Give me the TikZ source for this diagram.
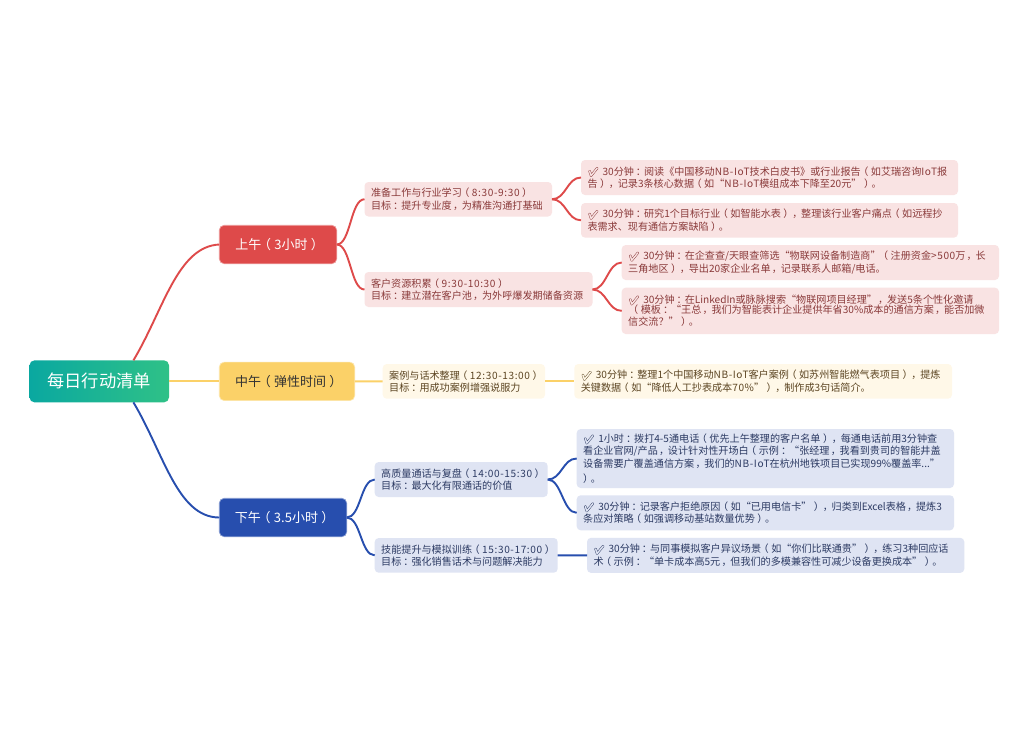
\documentclass[tikz,border=0pt]{standalone}
\usepackage{fontspec}
\setmainfont{Noto Sans CJK SC}
\newfontfamily\emo{Noto Emoji}
\newfontfamily\ltn[LetterSpace=6]{Noto Sans CJK SC}
\usetikzlibrary{calc}
\catcode`（=\active \def（{\kern-.25em\char"FF08\kern.25em}
\catcode`）=\active \def）{\kern.25em\char"FF09\kern-.25em}
\catcode`：=\active \def：{\kern.2em\char"FF1A\kern-.2em}
\catcode`，=\active \def，{\kern.12em\char"FF0C\kern-.12em}
\newcommand{\ck}{\smash{\fontsize{9.2}{9.2}\emo\special{pdf:code 1 Tr 0.3 w}✔\special{pdf:code 0 Tr}}\ }
\newcommand{\tm}[1]{\mbox{\ltn #1}}
\definecolor{redc}{HTML}{DE4A4A}
\definecolor{redf}{HTML}{F9E3E3}
\definecolor{redt}{HTML}{8A3A3A}
\definecolor{yelc}{HTML}{FBD168}
\definecolor{yelf}{HTML}{FFF8E8}
\definecolor{yelt}{HTML}{5C4522}
\definecolor{bluc}{HTML}{274EAE}
\definecolor{bluf}{HTML}{DFE4F3}
\definecolor{blut}{HTML}{2C3A63}
\tikzset{
  x=1pt,y=-1pt,
  tbox/.style={rounded corners=4pt,inner sep=0pt,outer sep=0pt,align=left,font=\fontsize{10.1}{12.3}\selectfont},
  redbox/.style={tbox,fill=redf,text=redt},
  yelbox/.style={tbox,fill=yelf,text=yelt},
  blubox/.style={tbox,fill=bluf,text=blut},
  mainbox/.style={rounded corners=5pt,inner sep=0pt,outer sep=0pt,align=center,line width=.7pt,font=\fontsize{13}{16}\selectfont},
  link/.style={line width=1.9pt},
}
% #1 style, #2 name, #3 left, #4 top, #5 right, #6 bottom, #7 text
\newcommand{\bx}[7]{\node[#1,minimum width={(#5-#3)*1pt},minimum height={(#6-#4)*1pt},text width={(#5-#3-13)*1pt}] (#2) at ({(#3+#5)/2},{(#4+#6)/2}) {#7};}
\newcommand{\scurve}[3]{\draw[link,#1] (#2.east) .. controls ($(#2.east)+(14,0)$) and ($(#3.west)+(-14,0)$) .. (#3.west);}
\begin{document}
\begin{tikzpicture}
\useasboundingbox (0,0) rectangle (1028,736);
\fill[white] (0,0) rectangle (1028,736);
% main nodes
\node[mainbox,minimum width=139.5pt,minimum height=42pt,left color={rgb,255:red,10;green,168;blue,160},right color={rgb,255:red,47;green,193;blue,135},text=white,font=\fontsize{17.3}{20}\selectfont] (root) at (99.25,381.35) {每日行动清单};
\node[mainbox,fill=redc,draw=redc!55,text=white,minimum width=117.5pt,minimum height=38.5pt] (am) at (278,244.5) {上午（3小时）};
\node[mainbox,fill=yelc,draw=yelc!55,text=black!80,minimum width=135.5pt,minimum height=38.5pt] (noon) at (287,381.35) {中午（弹性时间）};
\node[mainbox,fill=bluc,draw=bluc!55,text=white,minimum width=127.5pt,minimum height=38.5pt] (pm) at (283,517.5) {下午（3.5小时）};
% second level
\bx{redbox}{a1}{364.5}{182}{552}{216.5}{准备工作与行业学习（\tm{8:30-9:30}）\\目标：提升专业度，为精准沟通打基础}
\bx{redbox}{a2}{364.5}{272}{592.5}{307}{客户资源积累（\tm{9:30-10:30}）\\目标：建立潜在客户池，为外呼爆发期储备资源}
\bx{yelbox}{n1}{382.7}{364}{545}{398.7}{案例与话术整理（\tm{12:30-13:00}）\\目标：用成功案例增强说服力}
\bx{blubox}{p1}{374.7}{462}{547.7}{497}{高质量通话与复盘（\tm{14:00-15:30}）\\目标：最大化有限通话的价值}
\bx{blubox}{p2}{374.7}{538}{557.7}{572.7}{技能提升与模拟训练（\tm{15:30-17:00}）\\目标：强化销售话术与问题解决能力}
% third level
\bx{redbox}{a11}{581}{160}{958}{195}{\ck 30分钟：阅读《中国移动\tm{NB-IoT}技术白皮书》或行业报告（如艾瑞咨询\tm{IoT}报\\告），记录3条核心数据（如“\tm{NB-IoT}模组成本下降至20元”）。}
\bx{redbox}{a12}{581}{203}{958}{237.6}{\ck 30分钟：研究1个目标行业（如智能水表），整理该行业客户痛点（如远程抄\\表需求、现有通信方案缺陷）。}
\bx{redbox}{a21}{621.7}{245}{999}{280}{\ck 30分钟：在企查查/天眼查筛选“物联网设备制造商”（注册资金\tm{>500}万，长\\三角地区），导出20家企业名单，记录联系人邮箱/电话。}
\bx{redbox}{a22}{621.7}{287.7}{999}{334}{\ck 30分钟：在LinkedIn或脉脉搜索“物联网项目经理”，发送5条个性化邀请\\（模板：“王总，我们为智能表计企业提供年省30\%成本的通信方案，能否加微\\信交流？”）。}
\bx{yelbox}{n11}{574.3}{364}{952}{398.7}{\ck 30分钟：整理1个中国移动\tm{NB-IoT}客户案例（如苏州智能燃气表项目），提炼\\关键数据（如“降低人工抄表成本\tm{70\%}”），制作成3句话简介。}
\bx{blubox}{p11}{576.7}{429}{954}{488}{\ck 1小时：拨打4-5通电话（优先上午整理的客户名单），每通电话前用3分钟查\\看企业官网/产品，设计针对性开场白（示例：“张经理，我看到贵司的智能井盖\\设备需要广覆盖通信方案，我们的\tm{NB-IoT}在杭州地铁项目已实现99\%覆盖率...”\\）。}
\bx{blubox}{p12}{576.7}{495.3}{954}{530.3}{\ck 30分钟：记录客户拒绝原因（如“已用电信卡”），归类到Excel表格，提炼3\\条应对策略（如强调移动基站数量优势）。}
\bx{blubox}{p21}{587}{537.85}{964.3}{572.85}{\ck 30分钟：与同事模拟客户异议场景（如“你们比联通贵”），练习3种回应话\\术（示例：“单卡成本高5元，但我们的多模兼容性可减少设备更换成本”）。}
% root links
\coordinate (rt) at ($(root.north west)!0.745!(root.north east)$);
\coordinate (rb) at ($(root.south west)!0.745!(root.south east)$);
\begin{scope}[on background layer/.style={}]
\draw[link,redc] (rt) .. controls ($(rt)+(30,-50)$) and ($(am.west)+(-42,2)$) .. (am.west);
\draw[link,yelc] (root.east) -- (noon.west);
\draw[link,bluc] (rb) .. controls ($(rb)+(30,50)$) and ($(pm.west)+(-42,0)$) .. (pm.west);
% branch links
\scurve{redc}{am}{a1}
\scurve{redc}{am}{a2}
\scurve{redc}{a1}{a11}
\scurve{redc}{a1}{a12}
\scurve{redc}{a2}{a21}
\scurve{redc}{a2}{a22}
\draw[link,yelc] (noon.east) -- (n1.west);
\draw[link,yelc] (n1.east) -- (n11.west);
\scurve{bluc}{pm}{p1}
\scurve{bluc}{pm}{p2}
\scurve{bluc}{p1}{p11}
\scurve{bluc}{p1}{p12}
\draw[link,bluc] (p2.east) -- (p21.west);
\end{scope}
\end{tikzpicture}
\end{document}
